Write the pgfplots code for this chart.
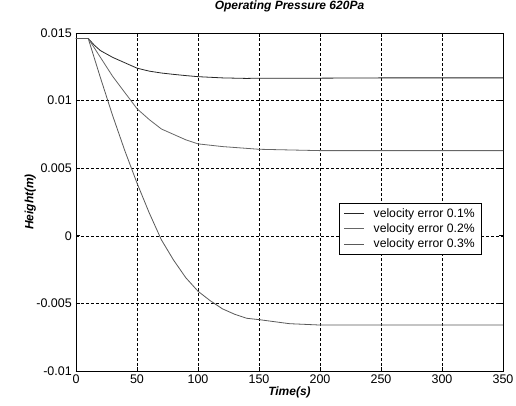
\documentclass[border=0pt]{standalone}
\usepackage{pgfplots}
\pgfplotsset{compat=1.18}
\usepackage{fontspec}
\setmainfont{Liberation Sans}
\begin{document}
\fontsize{12pt}{14pt}\selectfont
\begin{tikzpicture}
    % fixes the page to the reference's 516 x 405 with the axis box inside it
    \path[use as bounding box] (-76pt,-34pt) rectangle (440pt,371pt);
    \begin{axis}[
        at={(0,0)}, anchor=south west,
        scale only axis,
        width=427pt, height=338pt,
        xmin=0, xmax=350,
        ymin=-0.01, ymax=0.015,
        xtick={0,50,100,150,200,250,300,350},
        ytick={-0.01,-0.005,0,0.005,0.01,0.015},
        yticklabels={-0.01,-0.005,0,0.005,0.01,0.015},
        scaled y ticks=false,
        /pgf/number format/assume math mode=true,
        tick align=inside,
        major tick length=4pt,
        xtick pos=both, ytick pos=both,
        grid=major,
        grid style={black, line width=0.6pt, dash pattern=on 3pt off 2pt},
        axis line style={black, line width=0.8pt},
        tick style={black, line width=0.8pt},
        ticklabel style={font=\fontsize{12.5pt}{14pt}\selectfont},
        title={\textbf{\textit{Operating Pressure 620Pa}}},
        title style={at={(axis description cs:0.5,1.06)}, anchor=center, font=\fontsize{12pt}{14pt}\selectfont},
        xlabel={\textbf{\textit{Time(s)}}},
        xlabel style={at={(axis description cs:0.5,-0.062)}, anchor=center, font=\fontsize{12pt}{14pt}\selectfont},
        ylabel={\textbf{\textit{Height(m)}}},
        ylabel style={at={(axis description cs:-0.107,0.5)}, anchor=center, font=\fontsize{12pt}{14pt}\selectfont},
        legend style={at={(0.951,0.497)}, anchor=north east, draw=black, line width=0.8pt,
            font=\fontsize{12.2pt}{14pt}\selectfont, row sep=2.5pt,
            inner xsep=4pt, inner ysep=4pt,
            nodes={inner xsep=3pt, inner ysep=1pt},
            legend cell align=left},
        legend image code/.code={\draw[#1, line width=0.8pt] (0pt,0pt) -- (20pt,0pt); \path (26pt,0pt);},
        ]

    \addplot[color=black!85, line width=0.8pt]
        coordinates {(0,0.0146)(10,0.0146)(15,0.0141)(20,0.0137)(30,0.0132)(40,0.0128)(50,0.0124)(60,0.01218)(70,0.01204)(80,0.01194)(90,0.01185)(100,0.01177)(120,0.01168)(140,0.01164)(150,0.01166)(200,0.01166)(250,0.01168)(300,0.01168)(350,0.01168)};

    \addplot[color=black!60, line width=0.8pt]
        coordinates {(0,0.0146)(10,0.0146)(20,0.0132)(30,0.0118)(40,0.0106)(50,0.0094)(60,0.0086)(70,0.0079)(80,0.0075)(90,0.0071)(100,0.0068)(120,0.0066)(150,0.0064)(200,0.0063)(250,0.0063)(300,0.0063)(350,0.0063)};

    \addplot[color=black!65, line width=0.8pt]
        coordinates {(0,0.0146)(10,0.0146)(20,0.0117)(30,0.0089)(40,0.0063)(50,0.0039)(60,0.0017)(70,-0.0003)(80,-0.0018)(90,-0.0031)(100,-0.0041)(110,-0.0048)(120,-0.0054)(130,-0.0058)(140,-0.0061)(150,-0.0062)(175,-0.0065)(200,-0.0066)(250,-0.0066)(300,-0.0066)(350,-0.0066)};

    \legend{velocity error 0.1\%, velocity error 0.2\%, velocity error 0.3\%}
    \end{axis}
\end{tikzpicture}
\end{document}
